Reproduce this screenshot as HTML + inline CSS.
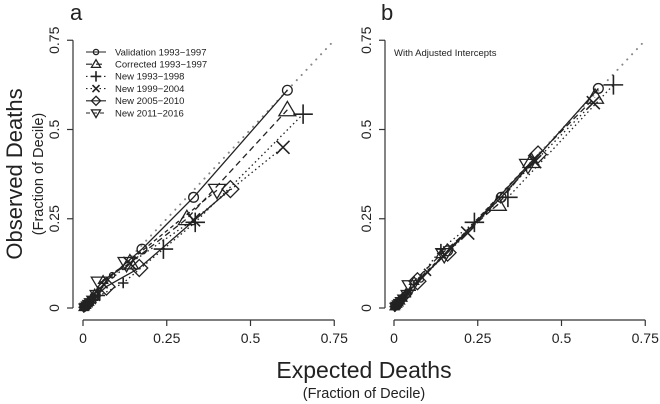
<!DOCTYPE html>
<html><head><meta charset="utf-8"><style>
body{margin:0;background:#fff;}
svg{display:block;font-family:"Liberation Sans",Arial,sans-serif;}
</style></head><body>
<svg id="c" width="660" height="404" viewBox="0 0 660 404">
<text x="22" y="174" font-size="22" text-anchor="middle" transform="rotate(-90 22 174)" fill="#222">Observed Deaths</text>
<text x="43" y="174" font-size="14.5" text-anchor="middle" transform="rotate(-90 43 174)" fill="#222">(Fraction of Decile)</text>
<text x="364" y="378" font-size="23" text-anchor="middle" fill="#222">Expected Deaths</text>
<text x="364" y="398" font-size="14.5" text-anchor="middle" fill="#222">(Fraction of Decile)</text>
</svg>
<script>
const tickVals=[0,0.25,0.5,0.75];
const tickLabels=["0","0.25","0.5","0.75"];
const seriesNames=["Validation 1993\u22121997","Corrected 1993\u22121997","New 1993\u22121998","New 1999\u22122004","New 2005\u22122010","New 2011\u22122016"];
const markers=["circle","triangle","plus","cross","diamond","invtri"];
const dashes=["","6,4","1.5,3","1.5,3","","4,3"];
// panel a: expected (x) / observed (y)
const aX0=[0.002,0.005,0.008,0.012,0.016,0.022,0.03,0.087,0.176,0.33,0.61];
const aY0=[0.002,0.004,0.008,0.012,0.018,0.025,0.035,0.092,0.165,0.31,0.61];
const aX1=[0.002,0.005,0.009,0.013,0.018,0.025,0.035,0.06,0.14,0.31,0.61];
const aY1=[0.002,0.004,0.008,0.012,0.017,0.025,0.04,0.078,0.126,0.25,0.555];
const aX2=[0.003,0.006,0.01,0.015,0.02,0.03,0.05,0.12,0.24,0.335,0.657];
const aY2=[0.002,0.004,0.007,0.011,0.015,0.022,0.035,0.07,0.165,0.24,0.543];
const aX3=[0.003,0.006,0.01,0.014,0.02,0.028,0.04,0.063,0.14,0.33,0.597];
const aY3=[0.002,0.004,0.007,0.011,0.015,0.021,0.03,0.065,0.125,0.247,0.45];
const aX4=[0.002,0.005,0.009,0.013,0.018,0.026,0.04,0.07,0.168,0.44];
const aY4=[0.002,0.004,0.007,0.011,0.015,0.021,0.035,0.06,0.112,0.333];
const aX5=[0.002,0.005,0.009,0.013,0.018,0.025,0.035,0.05,0.13,0.40];
const aY5=[0.002,0.004,0.008,0.012,0.017,0.024,0.04,0.07,0.125,0.33];
// panel b: adjusted intercepts
const bX0=[0.002,0.005,0.008,0.012,0.016,0.022,0.03,0.08,0.16,0.32,0.61];
const bY0=[0.004,0.007,0.011,0.015,0.02,0.027,0.036,0.08,0.16,0.31,0.615];
const bX1=[0.002,0.005,0.009,0.013,0.018,0.025,0.035,0.06,0.14,0.31,0.41,0.6];
const bY1=[0.004,0.007,0.011,0.015,0.02,0.028,0.04,0.075,0.15,0.29,0.41,0.59];
const bX2=[0.003,0.006,0.01,0.015,0.02,0.03,0.05,0.14,0.24,0.34,0.655];
const bY2=[0.004,0.007,0.011,0.016,0.021,0.03,0.05,0.165,0.24,0.31,0.625];
const bX3=[0.003,0.006,0.01,0.014,0.02,0.028,0.04,0.1,0.22,0.42,0.595];
const bY3=[0.004,0.007,0.011,0.015,0.02,0.028,0.04,0.1,0.21,0.41,0.575];
const bX4=[0.002,0.005,0.009,0.013,0.018,0.026,0.04,0.07,0.16,0.43];
const bY4=[0.004,0.007,0.01,0.014,0.019,0.026,0.04,0.075,0.155,0.43];
const bX5=[0.002,0.005,0.009,0.013,0.018,0.025,0.035,0.05,0.15,0.4];
const bY5=[0.004,0.007,0.011,0.015,0.02,0.027,0.04,0.06,0.15,0.4];
const panelA=[[aX0,aY0],[aX1,aY1],[aX2,aY2],[aX3,aY3],[aX4,aY4],[aX5,aY5]];
const panelB=[[bX0,bY0],[bX1,bY1],[bX2,bY2],[bX3,bY3],[bX4,bY4],[bX5,bY5]];

const NS="http://www.w3.org/2000/svg";
const svg=document.getElementById('c');
function mk(tag,attrs,parent){const e=document.createElementNS(NS,tag);for(const k in attrs)e.setAttribute(k,attrs[k]);(parent||svg).appendChild(e);return e;}
const Y0=308,YS=357,XS=335;
function yS(v){return Y0-v*YS;}

function marker(g,type,cx,cy,big){
  const r=big?6.5:3.5;let e;
  if(type==="circle")e=mk('circle',{cx:cx,cy:cy,r:r*0.75,fill:'none',stroke:'#222','stroke-width':1.3},g);
  else if(type==="triangle")e=mk('polygon',{points:`${cx},${cy-r*1.3} ${cx-r*1.3},${cy+r*0.9} ${cx+r*1.3},${cy+r*0.9}`,fill:'none',stroke:'#222','stroke-width':1.3},g);
  else if(type==="invtri")e=mk('polygon',{points:`${cx},${cy+r*1.3} ${cx-r*1.3},${cy-r*0.9} ${cx+r*1.3},${cy-r*0.9}`,fill:'none',stroke:'#222','stroke-width':1.3},g);
  else if(type==="diamond")e=mk('polygon',{points:`${cx},${cy-r*1.3} ${cx+r*1.3},${cy} ${cx},${cy+r*1.3} ${cx-r*1.3},${cy}`,fill:'none',stroke:'#222','stroke-width':1.3},g);
  else if(type==="plus")e=mk('path',{d:`M${cx-r*1.5},${cy}H${cx+r*1.5}M${cx},${cy-r*1.5}V${cy+r*1.5}`,stroke:'#222','stroke-width':1.6},g);
  else e=mk('path',{d:`M${cx-r},${cy-r}L${cx+r},${cy+r}M${cx-r},${cy+r}L${cx+r},${cy-r}`,stroke:'#222','stroke-width':1.6},g);
  
  
}

function panel(id,X0,yAxisX,data,letter,showYLabels){
  function xS(v){return X0+v*XS;}
  const g=mk('g',{});
  
  
  const t=mk('text',{x:X0-13,y:20,'font-size':22,fill:'#222'},g);t.textContent=letter;
  
  
  const ya=mk('path',{d:`M${yAxisX},${yS(0)}V${yS(0.75)}`,stroke:'#333','stroke-width':1.2,fill:'none'},g);
  
  
  const xa=mk('path',{d:`M${xS(0)},320H${xS(0.75)}`,stroke:'#333','stroke-width':1.2,fill:'none'},g);
  
  
  tickVals.forEach((v,i)=>{
    mk('path',{d:`M${yAxisX},${yS(v)}h-6`,stroke:'#333','stroke-width':1.2},g);
    mk('path',{d:`M${xS(v)},320v6`,stroke:'#333','stroke-width':1.2},g);
    const xl=mk('text',{x:xS(v),y:343,'font-size':14,'text-anchor':'middle',fill:'#222'},g);xl.textContent=tickLabels[i];
    
    
    if(showYLabels){
      const lx=yAxisX-14,ly=yS(v);
      const yl=mk('text',{x:lx,y:ly,'font-size':14,'text-anchor':'middle',fill:'#222',transform:`rotate(-90 ${lx} ${ly})`},g);yl.textContent=tickLabels[i];
      
      
    }
  });
  const idl=mk('path',{d:`M${xS(0)},${yS(0)}L${xS(0.75)},${yS(0.75)}`,stroke:'#888','stroke-width':2,'stroke-dasharray':'0.1,7','stroke-linecap':'round',fill:'none'},g);
  
  
  data.forEach((s,i)=>{
    const xs=s[0],ys=s[1];
    const d=xs.map((v,j)=>(j?'L':'M')+xS(v)+','+yS(ys[j])).join('');
    const ln=mk('path',{d:d,stroke:'#222','stroke-width':1.3,fill:'none','stroke-dasharray':dashes[i]},g);
    
    
    xs.forEach((v,j)=>marker(g,markers[i],xS(v),yS(ys[j]),j>=xs.length-3));
  });
  return g;
}
panel('a',83,73,panelA,'a',true);
panel('b',394,385,panelB,'b',true);

const lg=mk('g',{});


seriesNames.forEach((n,i)=>{
  const y=52+i*12.2;
  mk('path',{d:`M86,${y}H106`,stroke:'#222','stroke-width':1.1,'stroke-dasharray':dashes[i]},lg);
  marker(lg,markers[i],96,y,false);
  const tx=mk('text',{x:115,y:y+3.3,'font-size':9.5,fill:'#222'},lg);tx.textContent=n;
  
  
});
const note=mk('text',{x:394,y:56,'font-size':9.5,fill:'#222'});note.textContent='With Adjusted Intercepts';


</script>
</body></html>
